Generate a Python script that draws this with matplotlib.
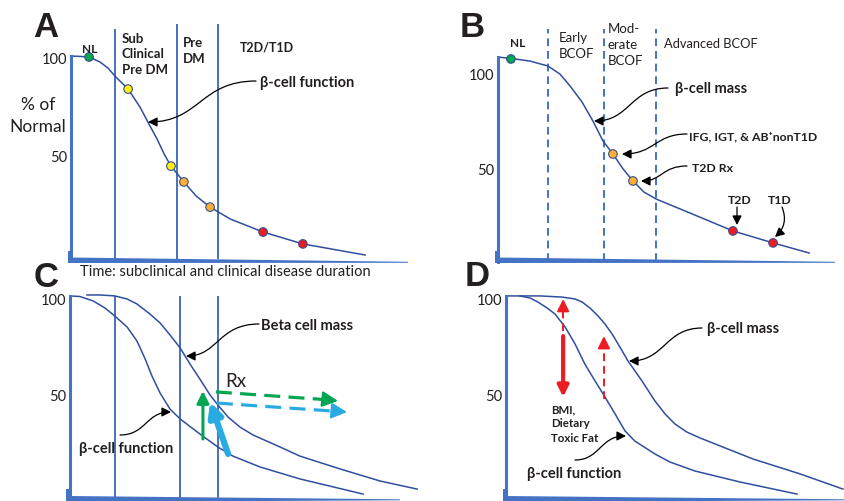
import numpy as np
import matplotlib.pyplot as plt
import matplotlib.transforms as mtransforms
from matplotlib.patches import FancyArrowPatch, Polygon
from matplotlib.path import Path

plt.rcParams['font.family'] = ['Lato', 'DejaVu Sans']

# time in arbitrary units, values in % of normal
a_t = [0, 2.6, 5.3, 8.5, 10.9, 12.9, 16.8, 20.3, 22.6, 25.3, 27.4, 29.4,
       33.2, 36.8, 40.9, 46.8, 56.5, 68.2, 86.5]
a_pct = [100.5, 100.3, 100, 97.5, 94.4, 90.4, 83.8, 74.7, 67.2, 58.6, 51.0,
         44.9, 36.9, 29.8, 24.2, 18.2, 11.6, 5.6, 0]
a_dot_t = [5.3, 16.8, 29.4, 33.2, 40.9, 56.5, 68.2]
a_dot_pct = [100, 83.8, 44.9, 36.9, 24.2, 11.6, 5.6]
a_dot_col = ['#00a651', '#fff200', '#fff200', '#fbb034', '#fbb034', '#ed1c24', '#ed1c24']
a_stages = [12.9, 31.2, 43.2]

b_t = [0, 3.8, 9.4, 14.7, 18.2, 21.2, 24.7, 27.9, 30.9, 33.8, 36.8, 39.7,
       42.9, 46.5, 56.5, 69.1, 80.9, 91.5]
b_pct = [108.9, 108.2, 106.8, 104.2, 100, 93.7, 85.3, 75.3, 64.7, 57.9, 50,
         43.7, 37.9, 34.2, 26.8, 17.4, 11.1, 5.8]
b_dot_t = [3.8, 33.8, 39.7, 69.1, 80.9]
b_dot_pct = [107.9, 57.9, 43.7, 17.4, 11.1]
b_dot_col = ['#00a651', '#fbb034', '#fbb034', '#ed1c24', '#ed1c24']
b_stages = [14.7, 31.2, 46.5]

c_func_t = [0, 2.9, 6.8, 10.3, 13.2, 16.8, 19.7, 22.1, 24.1, 26.5, 29.4,
            32.4, 38.2, 43.5, 47.9, 55.9, 67.6, 86.2]
c_func_pct = [101.6, 101.3, 99, 95.3, 91.1, 85.4, 78.1, 68.8, 59.9, 51.0,
              42.7, 37.5, 29.7, 22.9, 18.2, 12.5, 6.3, -1.6]
c_mass_t = [5, 8.8, 13.2, 16.8, 19.7, 23.5, 26.5, 29.4, 32.4, 35.3, 38.2,
            41.2, 43.5, 46.5, 50, 53.8, 61.8, 67.6, 79.4, 91.2, 102.1]
c_mass_pct = [102.1, 102.1, 101.6, 100, 97.4, 92.2, 87.5, 81.3, 74.5, 66.1,
              58.3, 50, 44.8, 38.5, 33.3, 29.2, 22.9, 18.2, 11.5, 5.2, 1.0]
c_stages = [13.2, 32.4, 43.5]

d_func_t = [0, 4.1, 7.1, 9.4, 12.1, 14.4, 17.4, 20.3, 23.2, 26.2, 29.1, 32.1,
            35.0, 37.9, 43.8, 48.2, 55.6, 68.8, 85.6]
d_func_pct = [101.6, 101.6, 100.5, 98.4, 95.3, 92.2, 85.4, 76.6, 66.1, 57.3,
              49.0, 40.1, 31.3, 26.0, 19.3, 15.1, 10.4, 4.7, -1.6]
d_mass_t = [4.1, 10, 16.5, 20.3, 22.4, 24.7, 27.1, 29.1, 31.2, 33.5, 35.9,
            40, 43.8, 46.8, 49.7, 53.2, 57.1, 72.6, 86.5, 99.1]
d_mass_pct = [101.6, 101.6, 101, 100, 98.4, 95.3, 91.1, 87, 81.8, 75, 67.7,
              57.3, 46.9, 40.1, 34.9, 30.7, 27.6, 16.7, 8.9, 1.0]

W, H = 845, 502
fig = plt.figure(figsize=(W / 100, H / 100), dpi=100)
# pixel coordinates, origin top-left
px = mtransforms.Affine2D().scale(1 / W, -1 / H).translate(0, 1) + fig.transFigure

AXIS = '#4472c4'
CURVE = '#2f4f9e'
TXT = '#231f20'
ARROW = '-|>,head_length=0.55,head_width=0.28'


def panel(L, T, R, B, x0, sx, y0, sy, vtop, vbot):
    ax = fig.add_axes([L / W, 1 - B / H, (R - L) / W, (B - T) / H])
    ax.set_xlim((L - x0) / sx, (R - x0) / sx)
    ax.set_ylim((y0 - B) / sy, (y0 - T) / sy)
    ax.patch.set_alpha(0)
    for s in ['top', 'right', 'bottom']:
        ax.spines[s].set_visible(False)
    ax.spines['left'].set_position(('data', 0))
    ax.spines['left'].set_bounds(vbot, vtop)
    ax.spines['left'].set_linewidth(2.2)
    ax.spines['left'].set_color(AXIS)
    ax.set_xticks([])
    ax.set_yticks([50, 100])
    ax.tick_params(axis='y', length=0, pad=3, labelsize=10.5, labelcolor=TXT)
    return ax


def wedge(x0, x1, ytop, ybot, yend):
    fig.add_artist(Polygon([(x0, ytop), (x1, yend - 0.7), (x1, yend + 0.3), (x0, ybot)],
                           closed=True, transform=px, color=AXIS, lw=0))
    fig.add_artist(Polygon([(x0 - 1.5, ytop - 7), (x0 + 3, ytop - 7), (x0 + 3, ybot), (x0 - 1.5, ybot)],
                           closed=True, transform=px, color=AXIS, lw=0))


def label(x, y, s, size=9, weight='bold', ha='left', **kw):
    fig.text(x, y, s, transform=px, fontsize=size, fontweight=weight,
             ha=ha, va='baseline', color=TXT, **kw)


def curly(x0, y0, x1, y1, xm):
    path = Path([(x0, y0), (xm, y0), (xm, y1), (x1, y1)],
                [Path.MOVETO, Path.CURVE4, Path.CURVE4, Path.CURVE4])
    fig.add_artist(FancyArrowPatch(path=path, transform=px, arrowstyle=ARROW,
                                   mutation_scale=10, lw=0.9, color='black'))


def bent(x0, y0, x1, y1, rad):
    fig.add_artist(FancyArrowPatch((x0, y0), (x1, y1), transform=px, arrowstyle=ARROW,
                                   connectionstyle='arc3,rad=%s' % rad,
                                   shrinkA=0, shrinkB=0,
                                   mutation_scale=10, lw=0.9, color='black'))


def head(ax, start, end, color, size=10, lw=1.5):
    ax.annotate('', xy=end, xytext=start,
                arrowprops=dict(arrowstyle='-|>,head_length=0.8,head_width=0.4',
                                color=color, lw=lw, mutation_scale=size,
                                shrinkA=0, shrinkB=0))


# ---------------- A
axA = panel(0, 0, 422, 270, 71, 3.4, 256, 1.98, 100.5, -3)
axA.vlines(a_stages, [-2, -2, -2], [114.1, 116.7, 116.7], color='#4a70bd', lw=1.4)
axA.plot(a_t, a_pct, color=CURVE, lw=1.1)
axA.scatter(a_dot_t, a_dot_pct, c=a_dot_col, s=38, edgecolors='#3a4f8c',
            linewidths=0.8, zorder=3)
wedge(70, 408, 258.5, 264, 263.5)
label(46, 37, 'A', size=25, ha='center', family=['Liberation Sans'])
label(90, 53, 'NL', size=8.5, ha='center')
label(122, 43, 'Sub', size=9.5)
label(122, 58.5, 'Clinical', size=9.5)
label(122, 74, 'Pre DM', size=9.5)
label(183, 47, 'Pre', size=9.5)
label(183, 63, 'DM', size=9.5)
label(240, 51, 'T2D/T1D', size=9)
label(260, 87, 'β-cell function', size=10.5)
label(38, 110, '% of', size=12.5, weight='normal', ha='center')
label(38, 132, 'Normal', size=12.5, weight='normal', ha='center')
label(80, 276, 'Time: subclinical and clinical disease duration', size=10.5, weight='normal')
curly(256, 82, 148, 123, 200)

# ---------------- B
axB = panel(422, 0, 845, 270, 498, 3.4, 265, 1.9, 108.9, 1)
axB.vlines(b_stages, [1.6] * 3, [123.7] * 3, color=AXIS, lw=1.4, linestyles=(0, (4, 2.5)))
axB.plot(b_t, b_pct, color=CURVE, lw=1.1)
axB.scatter(b_dot_t, b_dot_pct, c=b_dot_col, s=38, edgecolors='#3a4f8c',
            linewidths=0.8, zorder=3)
wedge(497, 835, 258.5, 264, 263.5)
label(472, 37, 'B', size=25, ha='center', family=['Liberation Sans'])
label(518, 47, 'NL', size=8.5, ha='center')
label(559, 42, 'Early', size=9.5, weight='normal')
label(559, 57.5, 'BCOF', size=9.5, weight='normal')
label(608, 33, 'Mod-', size=9.5, weight='normal')
label(608, 49, 'erate', size=9.5, weight='normal')
label(608, 65, 'BCOF', size=9.5, weight='normal')
label(664, 48, 'Advanced BCOF', size=9.3, weight='normal')
label(675, 93.5, 'β-cell mass', size=10.5)
label(689, 140, 'IFG, IGT, & AB⁺nonT1D', size=8.8)
label(692, 172.5, 'T2D Rx', size=8.8)
label(728, 204, 'T2D', size=8.8)
label(768, 204, 'T1D', size=8.8)
curly(668, 89, 594, 122, 630)
curly(687, 135, 622, 155, 655)
curly(687, 167, 641, 182, 662)
bent(737, 208, 737, 226, 0)
bent(782, 208, 775, 238, -0.35)

# ---------------- C
axC = panel(0, 270, 422, 502, 70, 3.4, 492, 1.92, 101.6, -3.6)
axC.vlines(c_stages, [-3.6] * 3, [101.6] * 3, color='#4a70bd', lw=1.4)
axC.plot(c_func_t, c_func_pct, color=CURVE, lw=1.1)
axC.plot(c_mass_t, c_mass_pct, color=CURVE, lw=1.1)
axC.plot([42.9, 77.5], [51.6, 47.3], color='#00a651', lw=2.3, dashes=(5, 2.6))
head(axC, (76, 47.5), (78.8, 46.9), '#00a651', size=12)
axC.plot([43.2, 80.0], [45.8, 41.3], color='#29abe2', lw=2.3, dashes=(5, 2.6))
head(axC, (79, 41.5), (81.5, 41.1), '#29abe2', size=12)
head(axC, (39.1, 27.1), (39.1, 52.1), '#00a651', size=9, lw=2.2)
head(axC, (46.5, 19.3), (41.2, 46.4), '#29abe2', size=10, lw=4.5)
wedge(68, 400, 497, 503, 501)
label(46, 287, 'C', size=25, ha='center', family=['Liberation Sans'])
label(261, 330, 'Beta cell mass', size=10.5)
label(225, 387, 'Rx', size=13.5, weight='normal')
label(79, 453, 'β-cell function', size=10.5)
curly(259, 325, 186, 357, 218)
curly(120, 436, 171, 413, 146)

# ---------------- D
axD = panel(422, 270, 845, 502, 506, 3.4, 492, 1.92, 101.6, -3.6)
axD.plot(d_func_t, d_func_pct, color=CURVE, lw=1.1)
axD.plot(d_mass_t, d_mass_pct, color=CURVE, lw=1.1)
head(axD, (16.8, 80.7), (16.8, 49.0), '#ed1c24', size=8, lw=3)
axD.plot([16.8, 16.8], [83.3, 97], color='#ed1c24', lw=1.4, dashes=(4, 2.5))
head(axD, (16.8, 96), (16.8, 100), '#ed1c24', size=9)
axD.plot([28.8, 28.8], [47.9, 77.5], color='#ed1c24', lw=1.4, dashes=(4, 2.5))
head(axD, (28.8, 77), (28.8, 80.7), '#ed1c24', size=9)
wedge(505, 846, 497, 503, 501)
label(477, 286, 'D', size=25, ha='center', family=['Liberation Sans'])
label(707, 333, 'β-cell mass', size=10.5)
label(551, 413, 'BMI,', size=8.3)
label(551, 427, 'Dietary', size=8.3)
label(551, 442, 'Toxic Fat', size=8.3)
label(527, 478, 'β-cell function', size=10.5)
curly(702, 329, 629, 362, 665)
curly(575, 461, 626, 437, 600)

fig.savefig('out.png', dpi=100)
